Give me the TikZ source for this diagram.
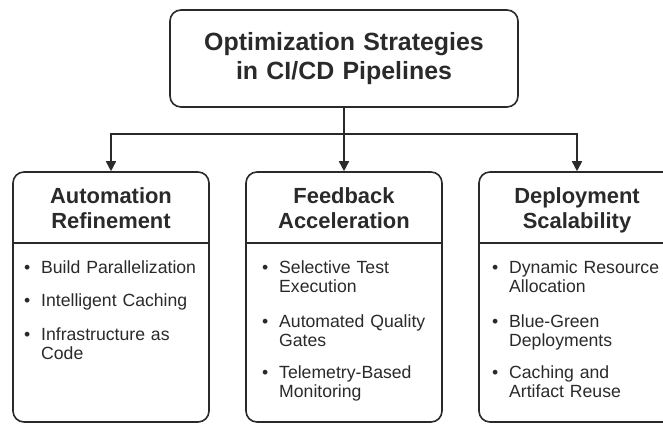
\documentclass[tikz,border=0pt]{standalone}
\usepackage{fontspec}
\setmainfont{Liberation Sans}
\usetikzlibrary{arrows.meta, positioning}
\definecolor{ink}{HTML}{2A2A2A}
\newcommand{\itembullet}{\llap{\textbullet\hspace{11bp}}}

\begin{document}
\begin{tikzpicture}[x=1bp, y=-1bp,
    box/.style={draw=ink, line width=1.6bp, rounded corners=11bp},
    colbox/.style={box, minimum width=196bp, minimum height=250bp},
    head/.style={text=ink, font=\fontsize{22}{25.5}\selectfont\bfseries,
        align=center, text width=190bp, anchor=base, inner sep=0pt},
    itm/.style={text=ink, font=\fontsize{17.7}{19.5}\selectfont,
        align=left, text width=170bp, anchor=base west, inner sep=0pt},
    conn/.style={draw=ink, line width=1.6bp},
    arr/.style={conn, -{Triangle[width=10bp,length=10bp]}}
]
\useasboundingbox[fill=white] (0,0) rectangle (663,423);

% =========================
% Title
% =========================
\node[box, minimum width=348bp, minimum height=97bp, text width=330bp,
      align=center, text=ink, font=\fontsize{25}{29}\selectfont\bfseries]
    (title) at (344,58.5) {Optimization Strategies\\in CI/CD Pipelines};

% =========================
% Automation Refinement
% =========================
\node[colbox] (automation) at (111,297) {};
\node[head] (automationhead) at (111,203) {Automation\\Refinement};
\draw[conn] (automation.west |- 0,243) -- (automation.east |- 0,243);
\node[itm] (auto1) at (41,273) {\itembullet Build Parallelization};
\node[itm] (auto2) at (41,306) {\itembullet Intelligent Caching};
\node[itm] (auto3) at (41,340) {\itembullet Infrastructure as\\Code};

% =========================
% Feedback Acceleration
% =========================
\node[colbox] (feedback) at (344,297) {};
\node[head] (feedbackhead) at (344,203) {Feedback\\Acceleration};
\draw[conn] (feedback.west |- 0,243) -- (feedback.east |- 0,243);
\node[itm] (feed1) at (279,273) {\itembullet Selective Test\\Execution};
\node[itm] (feed2) at (279,327) {\itembullet Automated Quality\\Gates};
\node[itm] (feed3) at (279,378) {\itembullet Telemetry-Based\\Monitoring};

% =========================
% Deployment Scalability
% =========================
\node[colbox] (deploy) at (577,297) {};
\node[head] (deployhead) at (577,203) {Deployment\\Scalability};
\draw[conn] (deploy.west |- 0,243) -- (deploy.east |- 0,243);
\node[itm] (dep1) at (509,273) {\itembullet Dynamic Resource\\Allocation};
\node[itm] (dep2) at (509,327) {\itembullet Blue-Green\\Deployments};
\node[itm] (dep3) at (509,378) {\itembullet Caching and\\Artifact Reuse};

% connectors
\coordinate (split) at (344,134);
\draw[conn] (title.south) -- (split);
\draw[arr] (split) -- (feedback.north);
\draw[arr] (split) -| (automation.north);
\draw[arr] (split) -| (deploy.north);

\end{tikzpicture}
\end{document}
